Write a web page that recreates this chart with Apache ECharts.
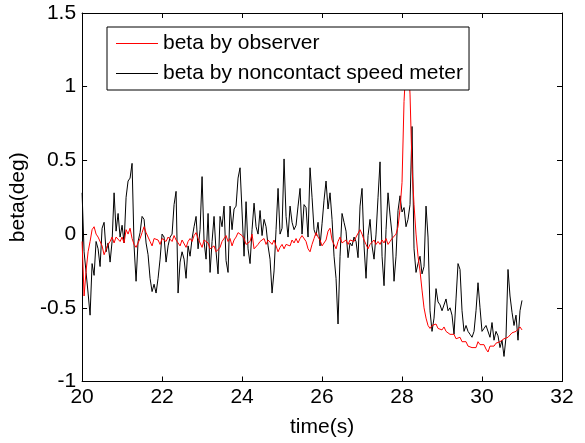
<!DOCTYPE html>
<html><head><meta charset="utf-8">
<script src="https://cdn.jsdelivr.net/npm/echarts@6/dist/echarts.min.js"></script>
<style>html,body{margin:0;padding:0;background:#fff}#c{width:585px;height:443px}</style>
</head><body><div id="c"></div>
<script>
// time grid
const tStart = 20, tStep = 0.05;
// axis ranges [min, max, interval]
const xRange = [20, 32, 2];
const yRange = [-1, 1.5, 0.5];
const seriesNames = ['beta by observer', 'beta by noncontact speed meter'];
const xName = 'time(s)';
const yName = 'beta(deg)';

// beta by observer (red)
const observer = [
 -0.05,-0.42,-0.25,-0.12,-0.05,0.03,0.05,0.00,-0.02,-0.03,-0.08,-0.14,-0.15,-0.07,-0.05,-0.02,-0.06,-0.02,-0.01,-0.05,
 -0.02,-0.06,0.03,0.00,0.04,-0.03,-0.07,-0.09,-0.06,-0.03,0.01,0.05,0.01,-0.02,-0.05,-0.08,-0.03,-0.02,-0.04,-0.07,
 -0.03,-0.02,-0.05,-0.02,-0.03,-0.05,-0.01,-0.04,-0.05,-0.08,-0.04,-0.05,-0.09,-0.05,-0.03,-0.05,-0.01,0.01,-0.03,-0.06,
 -0.09,-0.04,-0.05,-0.06,-0.10,-0.09,-0.08,-0.12,-0.11,-0.09,-0.05,-0.04,-0.01,-0.05,-0.03,-0.08,-0.04,-0.02,0.01,0.02,
 -0.01,-0.03,-0.07,-0.06,-0.05,0.00,-0.10,-0.11,-0.07,-0.05,-0.06,-0.03,-0.07,-0.04,-0.05,-0.07,-0.04,-0.08,-0.12,-0.09,
 -0.07,-0.10,-0.07,-0.06,-0.08,-0.04,-0.06,-0.03,-0.06,-0.03,-0.01,-0.02,-0.05,-0.10,-0.12,-0.07,-0.03,0.01,-0.02,-0.04,
 -0.08,-0.09,-0.04,0.02,0.04,-0.04,-0.07,-0.10,-0.05,-0.02,-0.06,-0.05,-0.04,-0.07,-0.04,-0.05,-0.05,-0.02,-0.01,0.03,
 0.00,-0.04,-0.07,-0.10,-0.07,-0.06,-0.04,-0.07,-0.05,-0.07,-0.04,-0.06,-0.03,-0.07,-0.05,-0.03,-0.04,0.00,0.05,0.17,
 0.35,0.90,1.15,1.20,0.95,0.45,0.20,0.00,-0.15,-0.25,-0.38,-0.50,-0.57,-0.62,-0.64,-0.62,-0.63,-0.61,-0.64,-0.63,
 -0.65,-0.63,-0.66,-0.65,-0.68,-0.69,-0.68,-0.71,-0.72,-0.70,-0.73,-0.74,-0.73,-0.76,-0.75,-0.77,-0.76,-0.77,-0.73,-0.75,
 -0.76,-0.75,-0.78,-0.80,-0.76,-0.75,-0.76,-0.74,-0.75,-0.73,-0.74,-0.71,-0.72,-0.70,-0.70,-0.67,-0.68,-0.66,-0.66,-0.63,
 -0.65
];

// beta by noncontact speed meter (black)
const meter = [
 0.28,-0.12,-0.26,-0.40,-0.55,-0.20,-0.28,-0.05,-0.10,-0.22,0.04,0.08,-0.12,-0.06,-0.19,-0.05,0.28,0.02,0.14,-0.02,
 0.06,-0.06,0.25,0.36,0.38,0.48,-0.08,-0.32,-0.05,0.01,0.12,0.10,-0.06,-0.14,-0.30,-0.39,-0.34,-0.40,-0.30,-0.17,
 0.00,-0.02,-0.19,-0.08,-0.02,0.00,0.20,0.29,-0.40,-0.19,-0.12,-0.17,-0.30,-0.08,-0.15,-0.03,0.05,0.12,-0.10,0.03,
 0.39,-0.05,-0.17,0.14,-0.26,-0.05,0.12,-0.12,-0.27,0.12,0.05,0.19,-0.18,-0.26,0.19,0.03,0.17,0.19,0.38,0.45,
 0.15,-0.15,0.22,-0.10,-0.20,0.03,0.21,0.05,0.00,0.16,-0.01,0.10,0.05,-0.08,-0.17,-0.40,-0.25,0.03,0.31,0.00,
 0.04,0.51,0.12,-0.02,0.19,0.08,0.03,0.06,0.19,0.31,0.00,0.20,0.18,-0.02,0.45,0.25,0.03,-0.01,0.08,-0.08,
 0.07,0.23,0.36,0.17,0.28,0.10,-0.15,-0.30,-0.61,-0.15,0.14,0.08,0.02,-0.16,-0.06,-0.08,-0.02,-0.05,-0.16,0.19,
 0.31,-0.08,-0.30,-0.01,0.10,-0.08,-0.17,0.00,0.25,0.49,-0.15,-0.35,0.03,0.28,0.13,0.00,-0.32,-0.15,0.16,0.26,
 0.15,0.18,0.05,0.10,0.20,0.73,-0.10,-0.26,-0.20,-0.15,-0.27,-0.22,0.19,-0.02,-0.52,-0.66,-0.57,-0.37,-0.46,-0.48,
 -0.52,-0.52,-0.44,-0.52,-0.50,-0.55,-0.68,-0.44,-0.20,-0.24,-0.52,-0.66,-0.62,-0.66,-0.68,-0.70,-0.66,-0.52,-0.33,-0.50,
 -0.66,-0.64,-0.62,-0.62,-0.70,-0.60,-0.72,-0.66,-0.69,-0.77,-0.72,-0.83,-0.70,-0.24,-0.42,-0.53,-0.62,-0.55,-0.72,-0.52,
 -0.45
];

const toPairs = arr => arr.map((v, i) => [+(tStart + i * tStep).toFixed(2), v]);
const FONT = "'Liberation Sans', Arial, sans-serif";
const FS = 21;

const chart = echarts.init(document.getElementById('c'), null, {renderer: 'canvas'});
const axisBase = {
  axisLine: {show: true, onZero: false, lineStyle: {color: '#000', width: 1}},
  axisTick: {show: true, inside: true, length: 5, lineStyle: {color: '#000', width: 1}},
  splitLine: {show: false}
};
chart.setOption({
  animation: false,
  backgroundColor: '#fff',
  grid: {left: 82, top: 13, right: 23, bottom: 55, containLabel: false},
  xAxis: [
    Object.assign({type: 'value', position: 'bottom', min: xRange[0], max: xRange[1], interval: xRange[2],
      name: xName, nameLocation: 'middle', nameGap: 46,
      nameTextStyle: {fontFamily: FONT, fontSize: FS, color: '#000', verticalAlign: 'middle'},
      axisLabel: {show: true, margin: 5, fontFamily: FONT, fontSize: FS, color: '#000'}}, axisBase),
    Object.assign({type: 'value', position: 'top', min: xRange[0], max: xRange[1], interval: xRange[2],
      axisLabel: {show: false}}, axisBase)
  ],
  yAxis: [
    Object.assign({type: 'value', position: 'left', min: yRange[0], max: yRange[1], interval: yRange[2],
      name: yName, nameLocation: 'middle', nameGap: 60, nameRotate: 90,
      nameTextStyle: {fontFamily: FONT, fontSize: FS, color: '#000', verticalAlign: 'middle'},
      axisLabel: {show: true, margin: 6, fontFamily: FONT, fontSize: FS, color: '#000'}}, axisBase),
    Object.assign({type: 'value', position: 'right', min: yRange[0], max: yRange[1], interval: yRange[2],
      axisLabel: {show: false}}, axisBase)
  ],
  legend: {
    data: seriesNames, orient: 'vertical', left: 107, top: 27,
    backgroundColor: '#fff', borderColor: '#000', borderWidth: 1, borderRadius: 0,
    padding: [6, 6, 6, 9], itemGap: 9, itemWidth: 42, itemHeight: 1, icon: 'rect',
    textStyle: {fontFamily: FONT, fontSize: FS, color: '#000', lineHeight: 20}
  },
  series: [
    {name: seriesNames[0], type: 'line', data: toPairs(observer), symbol: 'none', showSymbol: false,
      lineStyle: {color: '#ff0000', width: 1}, itemStyle: {color: '#ff0000'}, z: 3},
    {name: seriesNames[1], type: 'line', data: toPairs(meter), symbol: 'none', showSymbol: false,
      lineStyle: {color: '#000000', width: 1}, itemStyle: {color: '#000000'}, z: 2}
  ]
});
</script></body></html>
